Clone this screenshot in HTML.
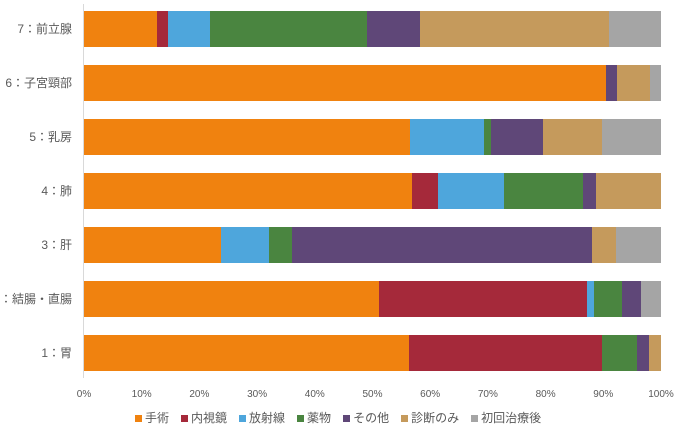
<!DOCTYPE html><html><head><meta charset="utf-8"><style>
body{margin:0;width:682px;height:432px;background:#fff;position:relative;overflow:hidden;font-family:"Liberation Sans","Noto Sans CJK JP",sans-serif;color:#595959}
.b{position:absolute;height:36px}
.l{position:absolute;right:610px;font-size:12px;white-space:nowrap;line-height:14px}
.t{position:absolute;top:389px;font-size:10px;width:40px;margin-left:-20px;text-align:center}
.lg{position:absolute;top:409px;font-size:12px;display:flex;gap:12px;left:135px}
.lg span i{display:inline-block;width:7px;height:7px;margin-right:3px}
</style></head><body>
<div style="position:absolute;left:83px;top:4px;width:1px;height:374px;background:#d9d9d9"></div>
<div id="c"></div>
<div class="lg">
<span><i style="background:#F0820F"></i>手術</span><span><i style="background:#A5293A"></i>内視鏡</span><span><i style="background:#4EA6DC"></i>放射線</span><span><i style="background:#4A8540"></i>薬物</span><span><i style="background:#5F4778"></i>その他</span><span><i style="background:#C59A5C"></i>診断のみ</span><span><i style="background:#A5A5A5"></i>初回治療後</span>
</div>
<script>
var C=["#F0820F","#A5293A","#4EA6DC","#4A8540","#5F4778","#C59A5C","#A5A5A5"];
var rows=[
["7：前立腺",[84,157,168,210,367,420,609,661]],
["6：子宮頸部",[84,606,606,606,606,617,650,661]],
["5：乳房",[84,410,410,484,491,543,602,661]],
["4：肺",[84,412,438,504,583,596,661,661]],
["3：肝",[84,221,221,269,292,592,616,661]],
["：結腸・直腸",[84,379,587,594,622,641,641,661]],
["1：胃",[84,409,602,602,637,649,661,661]]];
var h="";
rows.forEach(function(r,i){var y=11+54*i;
h+='<div class="l" style="top:'+(y+11)+'px">'+r[0]+'</div>';
for(var k=0;k<7;k++){var a=r[1][k],b=r[1][k+1];if(b>a)h+='<div class="b" style="left:'+a+'px;width:'+(b-a)+'px;top:'+y+'px;background:'+C[k]+'"></div>';}});
for(var p=0;p<=10;p++){var x=84+57.7*p;h+='<div class="t" style="left:'+x+'px">'+(p*10)+'%</div>';}
document.getElementById("c").innerHTML=h;
</script>
</body></html>
